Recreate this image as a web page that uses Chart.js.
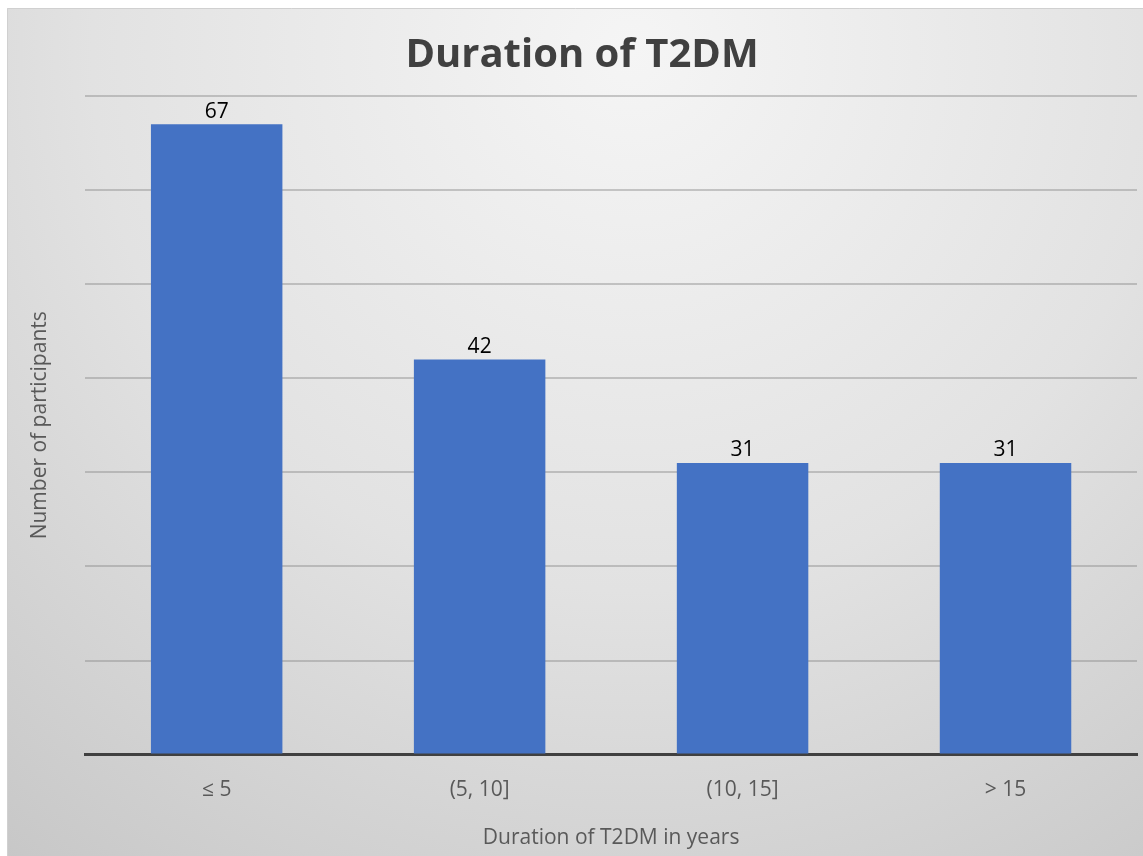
<!DOCTYPE html>
<html>
<head>
<meta charset="utf-8">
<script src="https://cdn.jsdelivr.net/npm/chart.js@4.4.1/dist/chart.umd.min.js"></script>
<style>
html,body{margin:0;padding:0;background:#fff;}
#wrap{width:1143px;height:856px;position:relative;}
canvas{display:block;}
</style>
</head>
<body>
<div id="wrap"><canvas id="c" width="1143" height="856"></canvas></div>
<script>
const categories = ['≤ 5', '(5, 10]', '(10, 15]', '> 15'];
const participants = [67, 42, 31, 31];
const chartTitle = 'Duration of T2DM';
const xAxisTitle = 'Duration of T2DM in years';
const yAxisTitle = 'Number of participants';

const bgPlugin = {
  id: 'bg',
  beforeDraw(chart) {
    const ctx = chart.ctx;
    ctx.save();
    ctx.fillStyle = '#ffffff';
    ctx.fillRect(0, 0, chart.width, chart.height);
    const x0 = 7, y0 = 8, w = chart.width - x0, h = chart.height - y0;
    const g = ctx.createRadialGradient(x0 + w * 0.55, y0 + h * 0.05, 0, x0 + w * 0.55, y0 + h * 0.05, Math.max(w, h) * 0.95);
    g.addColorStop(0, '#f5f5f5');
    g.addColorStop(0.5, '#e2e2e2');
    g.addColorStop(1, '#c4c4c4');
    ctx.fillStyle = g;
    ctx.fillRect(x0, y0, w, h);
    ctx.strokeStyle = '#d0d0d0';
    ctx.lineWidth = 1;
    ctx.beginPath();
    ctx.moveTo(x0 + 0.5, chart.height); ctx.lineTo(x0 + 0.5, y0 + 0.5); ctx.lineTo(chart.width, y0 + 0.5);
    ctx.stroke();
    ctx.restore();
  }
};

const labelPlugin = {
  id: 'valueLabels',
  afterDatasetsDraw(chart) {
    const ctx = chart.ctx;
    const meta = chart.getDatasetMeta(0);
    ctx.save();
    ctx.font = '21px "Open Sans", sans-serif';
    ctx.fillStyle = '#000000';
    ctx.textAlign = 'center';
    ctx.textBaseline = 'bottom';
    meta.data.forEach((bar, i) => {
      ctx.fillText(String(chart.data.datasets[0].data[i]), bar.x, bar.y - 2);
    });
    ctx.restore();
  }
};

new Chart(document.getElementById('c'), {
  type: 'bar',
  data: {
    labels: categories,
    datasets: [{
      data: participants,
      backgroundColor: '#4472C4',
      borderWidth: 0,
      barPercentage: 0.5,
      categoryPercentage: 1.0
    }]
  },
  options: {
    responsive: false,
    animation: false,
    devicePixelRatio: 1,
    layout: { padding: { left: 27, right: 6, top: 32, bottom: 5 } },
    plugins: {
      legend: { display: false },
      tooltip: { enabled: false },
      title: {
        display: true,
        text: chartTitle,
        color: '#404040',
        font: { family: '"Open Sans", sans-serif', size: 40, weight: 'bold' },
        padding: { top: 0, bottom: 16 }
      }
    },
    scales: {
      x: {
        grid: { display: false },
        border: { display: true, color: '#404040', width: 3 },
        ticks: { color: '#595959', font: { family: '"Open Sans", sans-serif', size: 21 }, padding: 15 },
        title: { display: true, text: xAxisTitle, color: '#595959', font: { family: '"Open Sans", sans-serif', size: 21 }, padding: { top: 8, bottom: 0 } }
      },
      y: {
        min: 0, max: 70,
        ticks: { display: false, stepSize: 10 },
        grid: { color: 'rgba(140,140,140,0.45)', lineWidth: 2, drawTicks: false },
        border: { display: false },
        title: { display: true, text: yAxisTitle, color: '#595959', font: { family: '"Open Sans", sans-serif', size: 21 }, padding: { top: 0, bottom: 33 } }
      }
    }
  },
  plugins: [bgPlugin, labelPlugin]
});
</script>
</body>
</html>
